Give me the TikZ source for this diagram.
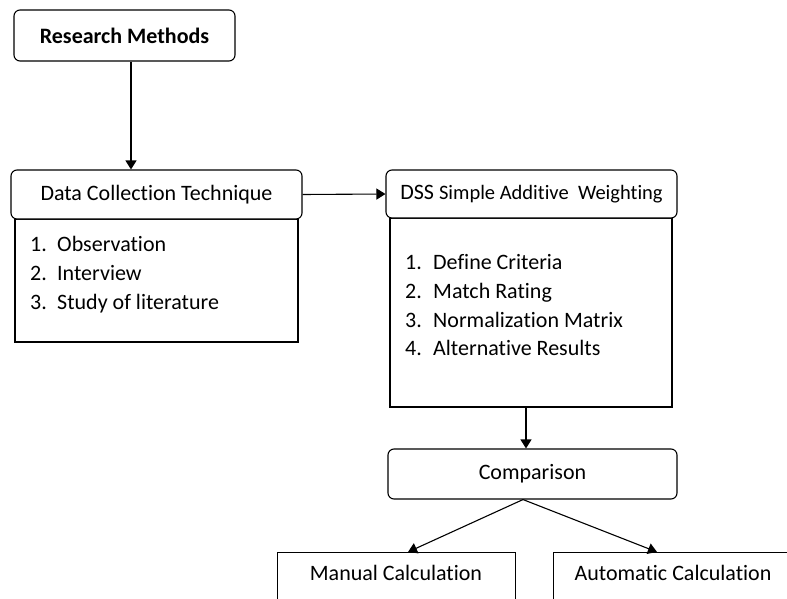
\documentclass[tikz,border=0pt]{standalone}
\usepackage{fontspec}
\setmainfont{Carlito}[Ligatures={NoCommon}]
\usetikzlibrary{arrows.meta}
\begin{document}
\begin{tikzpicture}[x=1pt,y=-1pt,
  every node/.style={font=\fontsize{22}{26}\selectfont, inner sep=0pt},
  hdr/.style={draw, line width=1.1pt, rounded corners=6pt},
  body/.style={draw, line width=1.1pt},
  item/.style={anchor=base west},
  arr/.style={line width=1.1pt, -{Triangle[length=9pt,width=11pt]}}]
\useasboundingbox (0,0) rectangle (787,599);
\clip (0,0) rectangle (787,599);
\fill[white] (0,0) rectangle (787,599);
% Research Methods
\node[hdr, minimum width=221pt, minimum height=51pt] (rm) at (124.5,35.5) {\bfseries Research Methods};
% Data collection
\node[body, minimum width=283pt, minimum height=123pt] (dcb) at (156.5,280.5) {};
\node[hdr, fill=white, minimum width=291pt, minimum height=49pt] (dch) at (156.5,194.5) {Data Collection Technique};
\node[item] (d1n) at (30,251) {1.};
\node[item] (d1) at (57,251) {Observation};
\node[item] (d2n) at (30,280) {2.};
\node[item] (d2) at (57,280) {Interview};
\node[item] (d3n) at (30,309) {3.};
\node[item] (d3) at (57,309) {Study of literature};
% DSS
\node[body, minimum width=282pt, minimum height=189pt] (dssb) at (531,312.5) {};
\node[hdr, fill=white, minimum width=291pt, minimum height=48pt] (dssh) at (531.5,194) {DSS {\fontsize{20.5}{24}\selectfont Simple Additive\ \ Weighting}};
\node[item] (s1n) at (405,269) {1.};
\node[item] (s1) at (433,269) {Define Criteria};
\node[item] (s2n) at (405,298) {2.};
\node[item] (s2) at (433,298) {Match Rating};
\node[item] (s3n) at (405,327) {3.};
\node[item] (s3) at (433,327) {Normalization Matrix};
\node[item] (s4n) at (405,355) {4.};
\node[item] (s4) at (433,355) {Alternative Results};
% Comparison
\node[hdr, minimum width=289pt, minimum height=50pt] (cmp) at (532.5,474) {Comparison};
% bottom boxes
\node[body, minimum width=238pt, minimum height=70pt, anchor=north west] (man) at (277,552) {};
\node[anchor=base] (mant) at (396,580) {Manual Calculation};
\node[body, minimum width=240pt, minimum height=70pt, anchor=north west] (aut) at (553,552) {};
\node[anchor=base] (autt) at (673,580) {Automatic Calculation};
% connectors
\draw[arr] ([xshift=6.5pt]rm.south) -- ([xshift=6.5pt]rm.south |- dch.north);
\draw[arr] (dch.east) -- (dssh.west);
\draw[arr] ([xshift=-5pt]dssb.south) -- ([xshift=-5pt]dssb.south |- cmp.north);
\coordinate (cb) at ([xshift=-9.5pt]cmp.south);
\draw[arr] (cb) -- (408,552);
\draw[arr] (cb) -- (657,552);
\end{tikzpicture}
\end{document}
